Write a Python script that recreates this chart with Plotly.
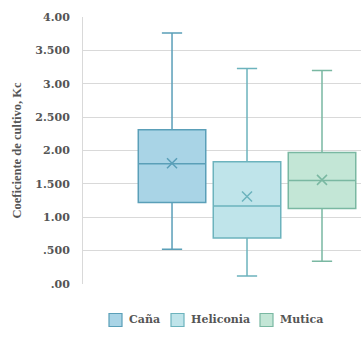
import plotly.graph_objects as go

# Crop coefficient (Kc) summary statistics per species
species = ["Caña", "Heliconia", "Mutica"]
kc_lower = [0.52, 0.12, 0.34]
kc_q1 = [1.22, 0.69, 1.13]
kc_median = [1.80, 1.17, 1.55]
kc_q3 = [2.31, 1.83, 1.97]
kc_upper = [3.76, 3.23, 3.20]
kc_mean = [1.81, 1.31, 1.56]

fill_colors = ["#a9d4e6", "#bfe4ea", "#c3e6d6"]
line_colors = ["#5a9fb8", "#6cb3bd", "#7ab8a2"]

y_ticks = [0, 0.5, 1, 1.5, 2, 2.5, 3, 3.5, 4]
y_tick_text = [".00", ".500", "1.00", "1.500", "2.00", "2.500", "3.00", "3.500", "4.00"]

W, H = 361, 348
M_L, M_R, M_T, M_B = 83, 0, 17, 64
font_family = "DejaVu Serif"
title_family = "Liberation Serif"
text_color = "#555555"

fig = go.Figure()
for i, name in enumerate(species):
    fig.add_trace(go.Box(
        name=name,
        x=[i],
        q1=[kc_q1[i]],
        median=[kc_median[i]],
        q3=[kc_q3[i]],
        lowerfence=[kc_lower[i]],
        upperfence=[kc_upper[i]],
        width=0.9,
        whiskerwidth=0.3,
        fillcolor=fill_colors[i],
        line=dict(color=line_colors[i], width=1.5),
        boxpoints=False,
        hoverinfo="skip",
        showlegend=False,
    ))
    fig.add_trace(go.Scatter(
        x=[i],
        y=[kc_mean[i]],
        mode="markers",
        marker=dict(symbol="x-thin", size=10,
                    line=dict(color=line_colors[i], width=1.5)),
        showlegend=False,
        hoverinfo="skip",
    ))

# Legend drawn below the plot: swatch + label per species
plot_w = W - M_L - M_R
plot_h = H - M_T - M_B


def px_x(px):
    return (px - M_L) / plot_w


def px_y(py):
    return (H - M_B - py) / plot_h


legend_swatch_x = [109, 171, 260]
legend_y = 320
for i, name in enumerate(species):
    x0 = legend_swatch_x[i]
    fig.add_shape(
        type="rect", xref="paper", yref="paper",
        x0=px_x(x0), x1=px_x(x0 + 13),
        y0=px_y(legend_y + 6.5), y1=px_y(legend_y - 6.5),
        fillcolor=fill_colors[i],
        line=dict(color=line_colors[i], width=1.2),
    )
    fig.add_annotation(
        xref="paper", yref="paper",
        x=px_x(x0 + 18), y=px_y(legend_y),
        xanchor="left", yanchor="middle",
        text="<b>%s</b>" % name, showarrow=False,
        font=dict(size=11, family=font_family, color=text_color),
    )

fig.update_layout(
    width=W,
    height=H,
    margin=dict(l=M_L, r=M_R, t=M_T, b=M_B),
    paper_bgcolor="white",
    plot_bgcolor="white",
    font=dict(family=font_family, color=text_color, size=11),
    showlegend=False,
    xaxis=dict(
        range=[-1.187, 2.52],
        showticklabels=False,
        showgrid=False,
        zeroline=False,
        showline=False,
        fixedrange=True,
    ),
    yaxis=dict(
        range=[0, 4],
        tickvals=y_ticks,
        ticktext=["<b>%s</b>" % t for t in y_tick_text],
        showgrid=True,
        gridcolor="#d9d9d9",
        gridwidth=1,
        zeroline=False,
        showline=True,
        linecolor="#d9d9d9",
        ticks="",
        ticklabelstandoff=10,
        tickfont=dict(size=11, family=font_family, color=text_color),
        title=dict(text="<b>Coeficiente de cultivo, Kc</b>",
                   font=dict(size=12.5, family=title_family, color=text_color),
                   standoff=10),
    ),
)

fig.write_html("out.html")
